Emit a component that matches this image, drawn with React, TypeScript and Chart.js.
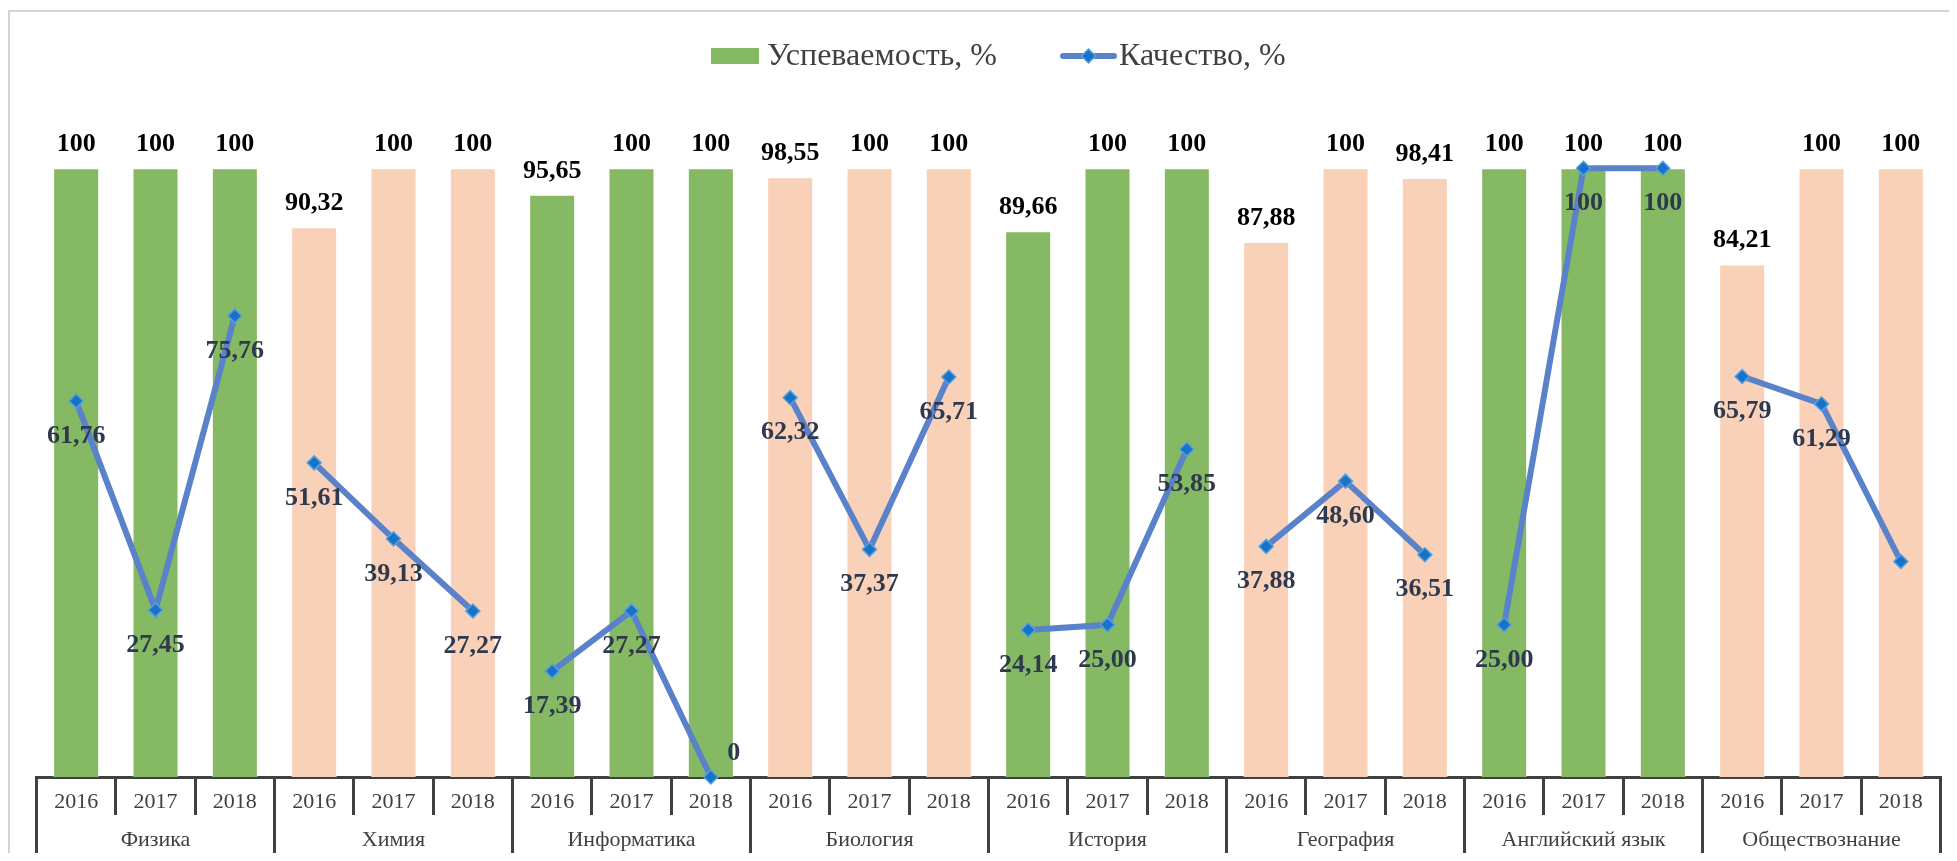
import React, { useEffect, useRef } from 'react';
import { Chart, registerables } from 'chart.js';

Chart.register(...registerables);

const subjects = ['Физика', 'Химия', 'Информатика', 'Биология', 'История', 'География', 'Английский язык', 'Обществознание'];
const years = ['2016', '2017', '2018'];
const uspevaemost = [100, 100, 100, 90.32, 100, 100, 95.65, 100, 100, 98.55, 100, 100, 89.66, 100, 100, 87.88, 100, 98.41, 100, 100, 100, 84.21, 100, 100];
const kachestvo = [61.76, 27.45, 75.76, 51.61, 39.13, 27.27, 17.39, 27.27, 0, 62.32, 37.37, 65.71, 24.14, 25.0, 53.85, 37.88, 48.6, 36.51, 25.0, 100, 100, 65.79, 61.29, 35.4];
const subjectColors = ['#86B963', '#F9D1B8', '#86B963', '#F9D1B8', '#86B963', '#F9D1B8', '#86B963', '#F9D1B8'];
const legendLabels = ['Успеваемость, %', 'Качество, %'];
const hiddenQualityLabels = [23];

const FONT = "'Liberation Serif', 'Times New Roman', serif";
const LINE_COLOR = '#5A82CA';

const yearLabels = subjects.flatMap(() => years);
const barColors = subjects.flatMap((_, i) => years.map(() => subjectColors[i]));

const fmt = (v: number) => (v === 100 || v === 0 ? String(v) : v.toFixed(2).replace('.', ','));

const drawDiamond = (ctx: CanvasRenderingContext2D, x: number, y: number, r: number) => {
  ctx.beginPath();
  ctx.moveTo(x, y - r);
  ctx.lineTo(x + r, y);
  ctx.lineTo(x, y + r);
  ctx.lineTo(x - r, y);
  ctx.closePath();
  ctx.fillStyle = '#1872C6';
  ctx.fill();
  ctx.strokeStyle = '#55A0E0';
  ctx.lineWidth = 1.5;
  ctx.stroke();
};

const decorPlugin = {
  id: 'decor',
  beforeDraw(chart: any) {
    const ctx = chart.ctx as CanvasRenderingContext2D;
    ctx.save();
    ctx.strokeStyle = '#D4D4D4';
    ctx.lineWidth = 2;
    ctx.beginPath();
    ctx.moveTo(1, chart.height + 5);
    ctx.lineTo(1, 3);
    ctx.lineTo(chart.width + 5, 3);
    ctx.stroke();
    ctx.restore();
  },
  afterDatasetsDraw(chart: any) {
    const ctx = chart.ctx as CanvasRenderingContext2D;
    ctx.save();
    ctx.textAlign = 'center';
    // bar labels
    const barMeta = chart.getDatasetMeta(1);
    ctx.font = `bold 26px ${FONT}`;
    ctx.fillStyle = '#000000';
    ctx.textBaseline = 'alphabetic';
    barMeta.data.forEach((el: any, i: number) => {
      ctx.fillText(fmt(uspevaemost[i]), el.x, el.y - 17);
    });
    // line labels
    const lineMeta = chart.getDatasetMeta(0);
    ctx.fillStyle = '#2E394D';
    ctx.textBaseline = 'middle';
    lineMeta.data.forEach((el: any, i: number) => {
      if (hiddenQualityLabels.includes(i)) return;
      const v = kachestvo[i];
      if (v === 0) {
        ctx.fillText(fmt(v), el.x + 23, el.y - 24);
      } else {
        ctx.fillText(fmt(v), el.x, el.y + 35);
      }
    });
    ctx.restore();
  },
  afterDraw(chart: any) {
    const ctx = chart.ctx as CanvasRenderingContext2D;
    ctx.save();
    const cy = 48;
    ctx.font = `32px ${FONT}`;
    ctx.fillStyle = '#404040';
    ctx.textBaseline = 'middle';
    ctx.textAlign = 'left';
    // bar legend
    ctx.fillStyle = subjectColors[0];
    ctx.fillRect(703, cy - 8, 48, 16);
    ctx.fillStyle = '#404040';
    ctx.fillText(legendLabels[0], 759, cy + 1);
    // line legend
    ctx.strokeStyle = LINE_COLOR;
    ctx.lineWidth = 6;
    ctx.lineCap = 'round';
    ctx.beginPath();
    ctx.moveTo(1055, cy);
    ctx.lineTo(1106, cy);
    ctx.stroke();
    drawDiamond(ctx, 1080.5, cy, 7);
    ctx.fillStyle = '#404040';
    ctx.fillText(legendLabels[1], 1111, cy + 1);
    ctx.restore();
  },
};

export default function App() {
  const ref = useRef<HTMLCanvasElement | null>(null);
  useEffect(() => {
    if (!ref.current) return;
    const chart = new Chart(ref.current, {
      type: 'bar',
      data: {
        labels: yearLabels,
        datasets: [
          {
            type: 'line',
            label: legendLabels[1],
            data: kachestvo,
            order: 0,
            borderColor: LINE_COLOR,
            borderWidth: 6,
            pointStyle: 'rectRot',
            pointRadius: 7,
            pointBackgroundColor: '#1872C6',
            pointBorderColor: '#55A0E0',
            pointBorderWidth: 1.5,
            tension: 0,
            clip: false,
            segment: {
              borderColor: (c: any) => (c.p0DataIndex % 3 === 2 ? 'rgba(0,0,0,0)' : LINE_COLOR),
            },
          } as any,
          {
            type: 'bar',
            label: legendLabels[0],
            data: uspevaemost,
            order: 1,
            backgroundColor: barColors,
            borderColor: 'rgba(255,255,255,0.55)',
            borderWidth: 1,
            barPercentage: 0.58,
            categoryPercentage: 1,
          },
        ],
      },
      options: {
        responsive: false,
        animation: false,
        layout: { padding: { left: 28.5, right: 6.5, top: 160.3, bottom: 0 } },
        plugins: {
          legend: { display: false },
          tooltip: { enabled: false },
        },
        scales: {
          x: {
            type: 'category',
            position: 'bottom',
            weight: 0,
            offset: true,
            grid: {
              offset: true,
              drawOnChartArea: false,
              drawTicks: true,
              tickLength: 38,
              color: '#404040',
              lineWidth: 3,
            },
            border: { display: true, color: '#404040', width: 3 },
            ticks: {
              font: { family: FONT, size: 22 },
              color: '#404040',
              padding: -25.7,
              maxRotation: 0,
              autoSkip: false,
            },
            afterFit: (axis: any) => {
              axis.height = 38;
            },
          },
          x2: {
            type: 'category',
            position: 'bottom',
            weight: 1,
            labels: subjects,
            offset: true,
            grid: {
              offset: true,
              drawOnChartArea: false,
              drawTicks: true,
              tickLength: 38,
              color: '#404040',
              lineWidth: 3,
            },
            border: { display: false },
            ticks: {
              font: { family: FONT, size: 22 },
              color: '#404040',
              padding: -26,
              maxRotation: 0,
              autoSkip: false,
            },
            afterFit: (axis: any) => {
              axis.height = 38;
            },
          },
          y: {
            display: false,
            min: 0,
            max: 100,
          },
        },
      },
      plugins: [decorPlugin],
    });
    return () => chart.destroy();
  }, []);
  return (
    <div style={{ width: 1941, height: 845 }}>
      <canvas ref={ref} width={1941} height={845} style={{ display: 'block' }} />
    </div>
  );
}
